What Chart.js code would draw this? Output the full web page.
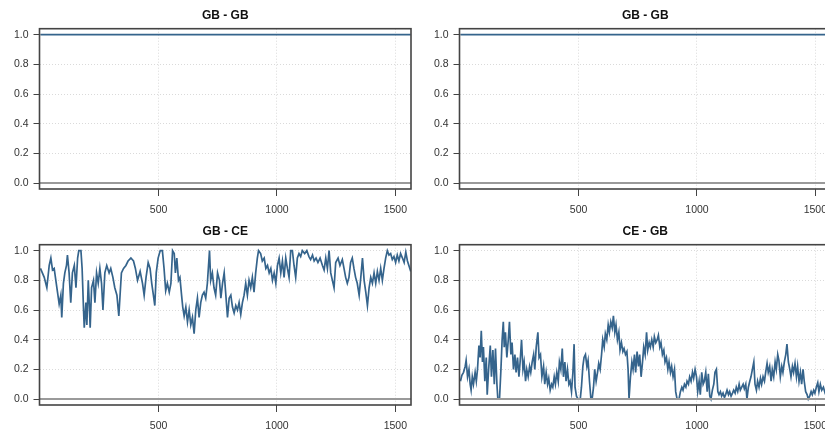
<!DOCTYPE html>
<html>
<head>
<meta charset="utf-8">
<script src="https://cdn.jsdelivr.net/npm/chart.js@4.4.1/dist/chart.umd.min.js"></script>
<style>
  html, body { margin: 0; padding: 0; background: #fff; overflow: hidden; width: 825px; height: 434px; }
  canvas { position: absolute; }
</style>
</head>
<body>
<canvas id="p1" width="420" height="217" style="left:0;top:0;"></canvas>
<canvas id="p2" width="420" height="217" style="left:420px;top:0;"></canvas>
<canvas id="p3" width="420" height="218" style="left:0;top:216px;"></canvas>
<canvas id="p4" width="420" height="218" style="left:420px;top:216px;"></canvas>
<script>
// axis setup
const xRange = [-3, 1566];
const yRange = [-0.04, 1.04];
const xTicks = [500, 1000, 1500];
const yTicks = [0, 0.2, 0.4, 0.6, 0.8, 1.0];

// GB - GB: constant at 1
const gbgbX = [1, 1565];
const gbgbY = [1, 1];

// GB - CE
const gbceX = [
  1, 17, 28, 38, 45, 52, 59, 66, 73, 80,
  87, 91, 98, 104, 111, 115, 122, 129, 136, 144,
  151, 158, 163, 172, 177, 183, 186, 193, 197, 203,
  207, 211, 217, 225, 231, 238, 245, 252, 259, 265,
  273, 281, 291, 298, 307, 315, 324, 332, 338, 343,
  352, 362, 371, 383, 394, 402, 411, 422, 432, 439,
  447, 456, 464, 471, 478, 484, 490, 498, 507, 516,
  523, 530, 537, 545, 552, 559, 566, 571, 577, 584,
  590, 597, 602, 608, 615, 622, 629, 636, 643, 650,
  657, 664, 671, 678, 685, 692, 699, 706, 715, 720,
  727, 734, 741, 749, 757, 763, 770, 777, 784, 791,
  798, 805, 812, 819, 826, 833, 840, 847, 854, 861,
  868, 875, 882, 889, 896, 903, 910, 917, 922, 931,
  938, 946, 953, 960, 967, 974, 981, 988, 995, 1002,
  1009, 1016, 1023, 1030, 1037, 1044, 1051, 1058, 1065, 1072,
  1079, 1086, 1093, 1100, 1107, 1117, 1126, 1135, 1142, 1150,
  1157, 1165, 1173, 1182, 1192, 1199, 1206, 1213, 1220, 1227,
  1234, 1241, 1248, 1258, 1266, 1276, 1283, 1290, 1297, 1304,
  1311, 1318, 1325, 1332, 1339, 1347, 1354, 1361, 1368, 1375,
  1382, 1389, 1396, 1403, 1410, 1417, 1424, 1431, 1438, 1445,
  1452, 1459, 1466, 1473, 1480, 1487, 1494, 1501, 1508, 1515,
  1522, 1530, 1537, 1544, 1551, 1565
];
const gbceY = [
  0.88, 0.82, 0.75, 0.90, 0.95, 0.87, 0.88, 0.80, 0.72, 0.64,
  0.70, 0.55, 0.78, 0.85, 0.90, 0.97, 0.85, 0.65, 0.85, 0.90,
  0.75, 0.95, 1.00, 1.00, 0.88, 0.60, 0.48, 0.65, 0.50, 0.80,
  0.65, 0.48, 0.75, 0.80, 0.65, 0.85, 0.78, 0.88, 0.78, 0.60,
  0.85, 0.90, 0.85, 0.88, 0.82, 0.75, 0.70, 0.56, 0.72, 0.85,
  0.88, 0.90, 0.93, 0.95, 0.93, 0.88, 0.80, 0.86, 0.78, 0.70,
  0.82, 0.92, 0.88, 0.78, 0.70, 0.63, 0.85, 0.95, 1.00, 1.00,
  0.88, 0.73, 0.78, 0.72, 0.78, 1.00, 0.98, 0.85, 0.95, 0.80,
  0.82, 0.70, 0.62, 0.56, 0.62, 0.52, 0.60, 0.50, 0.55, 0.44,
  0.60, 0.68, 0.55, 0.65, 0.70, 0.72, 0.68, 0.78, 1.00, 0.80,
  0.85, 0.75, 0.70, 0.85, 0.80, 0.68, 0.78, 0.85, 0.70, 0.55,
  0.68, 0.70, 0.62, 0.58, 0.63, 0.60, 0.65, 0.57, 0.65, 0.70,
  0.78, 0.70, 0.80, 0.75, 0.82, 0.72, 0.85, 0.95, 1.00, 0.98,
  0.93, 0.95, 0.88, 0.90, 0.85, 0.88, 0.80, 0.85, 0.78, 0.90,
  0.95, 0.85, 0.93, 0.82, 0.95, 0.88, 0.82, 1.00, 1.00, 0.90,
  0.82, 0.95, 0.98, 0.96, 1.00, 0.98, 1.00, 0.96, 0.94, 0.97,
  0.93, 0.95, 0.92, 0.95, 0.90, 0.87, 0.95, 0.88, 1.00, 0.85,
  0.80, 0.75, 0.92, 0.95, 0.90, 0.94, 0.88, 0.82, 0.78, 0.82,
  0.92, 0.95, 0.88, 0.82, 0.78, 0.70, 0.82, 0.95, 0.80, 0.72,
  0.63, 0.75, 0.82, 0.78, 0.85, 0.78, 0.86, 0.80, 0.88, 0.80,
  0.88, 0.95, 1.00, 0.97, 0.98, 0.94, 0.96, 0.92, 0.97, 0.93,
  0.98, 0.95, 0.92, 0.99, 0.93, 0.86
];

// CE - GB
const cegbX = [
  1, 7, 14, 21, 25, 31, 37, 42, 46, 51,
  56, 63, 68, 73, 79, 84, 89, 94, 98, 104,
  110, 114, 120, 127, 132, 138, 144, 149, 155, 159,
  166, 172, 177, 182, 186, 191, 197, 203, 208, 214,
  219, 225, 231, 236, 242, 248, 253, 259, 265, 270,
  276, 281, 287, 293, 298, 304, 310, 315, 321, 328,
  333, 339, 345, 352, 357, 363, 369, 374, 380, 386,
  391, 397, 402, 408, 414, 419, 425, 431, 436, 442,
  447, 453, 459, 464, 470, 476, 481, 485, 491, 498,
  507, 512, 518, 523, 529, 535, 540, 546, 552, 557,
  563, 568, 574, 580, 585, 591, 597, 602, 608, 613,
  619, 625, 630, 636, 642, 647, 653, 658, 664, 670,
  675, 681, 687, 692, 698, 704, 709, 713, 719, 725,
  730, 736, 741, 747, 753, 758, 764, 770, 775, 781,
  787, 792, 798, 803, 809, 815, 820, 826, 832, 837,
  843, 848, 854, 860, 865, 871, 877, 882, 888, 893,
  899, 905, 910, 916, 924, 930, 936, 941, 947, 953,
  958, 964, 969, 975, 981, 986, 992, 998, 1003, 1009,
  1014, 1020, 1026, 1031, 1037, 1043, 1048, 1054, 1059, 1065,
  1071, 1076, 1082, 1088, 1093, 1099, 1104, 1110, 1116, 1121,
  1127, 1133, 1138, 1144, 1150, 1155, 1161, 1166, 1172, 1178,
  1183, 1189, 1195, 1200, 1206, 1211, 1217, 1223, 1228, 1234,
  1240, 1245, 1251, 1256, 1262, 1268, 1273, 1279, 1285, 1290,
  1296, 1301, 1307, 1313, 1318, 1324, 1330, 1335, 1341, 1346,
  1352, 1358, 1363, 1369, 1375, 1380, 1386, 1392, 1397, 1403,
  1408, 1414, 1420, 1425, 1431, 1437, 1442, 1448, 1453, 1459,
  1465, 1470, 1476, 1482, 1487, 1493, 1498, 1504, 1510, 1515,
  1521, 1527, 1534, 1541, 1552, 1565
];
const cegbY = [
  0.12, 0.16, 0.18, 0.22, 0.26, 0.15, 0.20, 0.10, 0.06, 0.15,
  0.10, 0.18, 0.12, 0.20, 0.36, 0.28, 0.46, 0.25, 0.35, 0.12,
  0.28, 0.03, 0.20, 0.36, 0.15, 0.33, 0.10, 0.34, 0.10, 0.00,
  0.00, 0.20, 0.40, 0.52, 0.35, 0.45, 0.28, 0.40, 0.52, 0.30,
  0.38, 0.20, 0.30, 0.18, 0.28, 0.15, 0.25, 0.40, 0.20, 0.25,
  0.12, 0.20, 0.15, 0.22, 0.18, 0.25, 0.30, 0.20, 0.35, 0.45,
  0.28, 0.30, 0.15, 0.22, 0.10, 0.18, 0.10, 0.14, 0.06, 0.10,
  0.08, 0.15, 0.10, 0.18, 0.12, 0.25, 0.20, 0.34, 0.15, 0.25,
  0.12, 0.20, 0.10, 0.12, 0.05, 0.18, 0.37, 0.08, 0.02, 0.00,
  0.00, 0.08, 0.22, 0.28, 0.30, 0.22, 0.26, 0.12, 0.00, 0.00,
  0.08, 0.20, 0.12, 0.18, 0.24, 0.20, 0.30, 0.40, 0.35, 0.44,
  0.40, 0.50, 0.45, 0.52, 0.48, 0.56, 0.45, 0.50, 0.40, 0.45,
  0.33, 0.38, 0.32, 0.34, 0.30, 0.32, 0.20, 0.00, 0.15, 0.25,
  0.20, 0.30, 0.18, 0.32, 0.22, 0.30, 0.15, 0.25, 0.35, 0.30,
  0.45, 0.33, 0.38, 0.35, 0.40, 0.35, 0.42, 0.38, 0.40, 0.43,
  0.35, 0.38, 0.30, 0.33, 0.25, 0.28, 0.20, 0.25, 0.18, 0.22,
  0.15, 0.20, 0.05, 0.00, 0.00, 0.05, 0.08, 0.06, 0.10, 0.08,
  0.12, 0.10, 0.15, 0.12, 0.18, 0.14, 0.20, 0.15, 0.05, 0.12,
  0.03, 0.18, 0.10, 0.12, 0.18, 0.05, 0.17, 0.02, 0.00, 0.06,
  0.10, 0.18, 0.20, 0.05, 0.03, 0.05, 0.02, 0.04, 0.01, 0.03,
  0.06, 0.03, 0.05, 0.02, 0.04, 0.06, 0.04, 0.08, 0.05, 0.10,
  0.06, 0.08, 0.10, 0.07, 0.10, 0.00, 0.08, 0.12, 0.15, 0.20,
  0.25, 0.10, 0.06, 0.12, 0.08, 0.14, 0.10, 0.15, 0.12, 0.18,
  0.24, 0.18, 0.22, 0.12, 0.20, 0.15, 0.25, 0.20, 0.30, 0.26,
  0.15, 0.22, 0.18, 0.25, 0.30, 0.37, 0.25, 0.20, 0.15, 0.22,
  0.18, 0.24, 0.15, 0.22, 0.12, 0.18, 0.10, 0.20, 0.12, 0.05,
  0.03, 0.00, 0.02, 0.05, 0.03, 0.06, 0.04, 0.08, 0.11, 0.05,
  0.10, 0.06, 0.08, 0.04, 0.06, 0.05
];

Chart.defaults.font.family = "'Liberation Sans', Arial, sans-serif";
Chart.defaults.color = '#333';

// dark box round the plot area
const framePlugin = {
    id: 'frame',
    afterDatasetsDraw(chart) {
        const a = chart.chartArea;
        const ctx = chart.ctx;
        ctx.save();
        ctx.strokeStyle = '#444';
        ctx.lineWidth = 1.6;
        ctx.strokeRect(a.left, a.top, a.right - a.left, a.bottom - a.top);
        ctx.restore();
    }
};

function toPoints(xs, ys) {
    return xs.map(function (x, i) { return { x: x, y: ys[i] }; });
}

function makePanel(id, title, xs, ys) {
    const canvas = document.getElementById(id);
    const axisH = canvas.height - 28.7 - 160.3;
    new Chart(canvas.getContext('2d'), {
        type: 'line',
        data: {
            datasets: [{
                data: [{ x: xRange[0], y: 0 }, { x: xRange[1], y: 0 }],
                borderColor: '#9a9a9a',
                borderWidth: 2,
                pointRadius: 0
            }, {
                data: toPoints(xs, ys),
                borderColor: '#35648c',
                borderWidth: 1.7,
                pointRadius: 0,
                tension: 0
            }]
        },
        options: {
            responsive: false,
            animation: false,
            events: [],
            layout: { padding: { left: 0, right: 9, top: 0, bottom: 0 } },
            plugins: {
                legend: { display: false },
                tooltip: { enabled: false },
                title: {
                    display: true,
                    text: title,
                    fullSize: false,
                    color: '#111',
                    font: { size: 12, weight: 'bold' },
                    padding: { top: 8.8, bottom: 5.5 }
                }
            },
            scales: {
                x: {
                    type: 'linear',
                    min: xRange[0],
                    max: xRange[1],
                    afterBuildTicks: function (scale) {
                        scale.ticks = xTicks.map(function (v) { return { value: v }; });
                    },
                    afterFit: function (scale) { scale.height = axisH; },
                    ticks: {
                        autoSkip: false,
                        maxRotation: 0,
                        padding: 8,
                        font: { size: 10.5 },
                        color: '#333',
                        callback: function (v) { return String(v); }
                    },
                    grid: { color: '#dadada', lineWidth: 1, tickLength: 7, tickColor: '#444', tickWidth: 1 },
                    border: { display: false, dash: [1, 2] }
                },
                y: {
                    type: 'linear',
                    min: yRange[0],
                    max: yRange[1],
                    afterBuildTicks: function (scale) {
                        scale.ticks = yTicks.map(function (v) { return { value: v }; });
                    },
                    afterFit: function (scale) { scale.width = 39.5; },
                    ticks: {
                        padding: 5,
                        font: { size: 10.5 },
                        color: '#333',
                        callback: function (v) { return Number(v).toFixed(1); }
                    },
                    grid: { color: '#dadada', lineWidth: 1, tickLength: 6, tickColor: '#444', tickWidth: 1 },
                    border: { display: false, dash: [1, 2] }
                }
            }
        },
        plugins: [framePlugin]
    });
}

makePanel('p1', 'GB - GB', gbgbX, gbgbY);
makePanel('p2', 'GB - GB', gbgbX, gbgbY);
makePanel('p3', 'GB - CE', gbceX, gbceY);
makePanel('p4', 'CE - GB', cegbX, cegbY);
</script>
</body>
</html>
